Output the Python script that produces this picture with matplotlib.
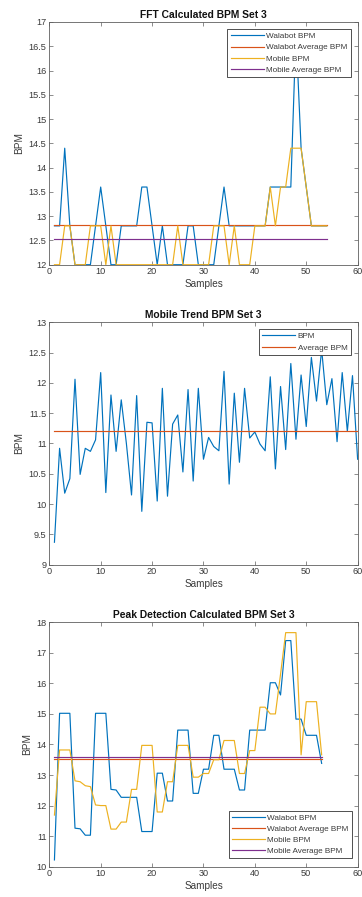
import matplotlib.pyplot as plt
import numpy as np

plt.rcParams['font.family'] = ['Liberation Sans', 'DejaVu Sans']

# colores por defecto de MATLAB
C_BLUE = '#0072BD'
C_ORANGE = '#D95319'
C_YELLOW = '#EDB120'
C_PURPLE = '#7E2F8E'
C_AXIS = '#5f5f5f'
C_TEXT = '#3a3a3a'

# ── Panel 1: FFT ──────────────────────────────────────────────
fft_walabot = [12.8, 12.8, 14.4, 12.8, 12.0, 12.0, 12.0, 12.0, 12.8, 13.6,
               12.8, 12.0, 12.0, 12.8, 12.8, 12.8, 12.8, 13.6, 13.6, 12.8,
               12.0, 12.8, 12.0, 12.0, 12.0, 12.0, 12.8, 12.8, 12.0, 12.0,
               12.0, 12.0, 12.8, 13.6, 12.8, 12.8, 12.8, 12.8, 12.8, 12.8,
               12.8, 12.8, 13.6, 13.6, 13.6, 13.6, 13.6, 16.8, 14.4, 13.6,
               12.8, 12.8, 12.8, 12.8]
fft_mobile = [12.0, 12.0, 12.8, 12.8, 12.0, 12.0, 12.0, 12.8, 12.8, 12.8,
              12.0, 12.8, 12.0, 12.0, 12.0, 12.0, 12.0, 12.0, 12.0, 12.0,
              12.0, 12.0, 12.0, 12.0, 12.8, 12.0, 12.0, 12.0, 12.0, 12.0,
              12.0, 12.8, 12.8, 12.8, 12.0, 12.8, 12.0, 12.0, 12.0, 12.8,
              12.8, 12.8, 13.6, 12.8, 13.6, 13.6, 14.4, 14.4, 14.4, 13.6,
              12.8, 12.8, 12.8, 12.8]
fft_walabot_avg = 12.81
fft_mobile_avg = 12.53

# ── Panel 2: tendencia móvil ──────────────────────────────────
trend_bpm = [9.37, 10.92, 10.18, 10.42, 12.06, 10.49, 10.92, 10.87, 11.06, 12.17,
             10.19, 11.80, 10.87, 11.72, 11.00, 10.15, 11.79, 9.88, 11.35, 11.34,
             10.05, 11.91, 10.13, 11.32, 11.47, 10.53, 11.89, 10.38, 11.91, 10.74,
             11.10, 10.95, 10.88, 12.19, 10.33, 11.83, 10.69, 11.91, 11.09, 11.19,
             10.99, 10.88, 12.10, 10.58, 11.94, 10.90, 12.32, 11.07, 12.13, 11.28,
             12.42, 11.70, 12.55, 11.64, 12.07, 11.03, 12.17, 11.20, 12.12, 10.74]
trend_avg = 11.21

# ── Panel 3: detección de picos ───────────────────────────────
peak_walabot = [10.22, 15.02, 15.02, 15.02, 11.26, 11.24, 11.03, 11.03, 15.02, 15.02,
                15.02, 12.53, 12.51, 12.27, 12.27, 12.27, 12.27, 11.15, 11.15, 11.15,
                13.06, 13.06, 12.15, 12.15, 14.47, 14.47, 14.47, 12.40, 12.40, 13.19,
                13.19, 14.30, 14.30, 13.19, 13.19, 13.19, 12.51, 12.51, 14.47, 14.47,
                14.47, 14.47, 16.02, 16.02, 15.62, 17.40, 17.40, 14.83, 14.83, 14.30,
                14.30, 14.30, 13.38]
peak_mobile = [11.69, 13.82, 13.82, 13.82, 12.81, 12.78, 12.65, 12.62, 12.02, 12.00,
               12.00, 11.23, 11.23, 11.46, 11.46, 12.53, 12.53, 13.97, 13.97, 13.97,
               11.79, 11.79, 12.78, 12.78, 13.97, 13.97, 13.97, 12.93, 12.93, 13.05,
               13.05, 13.50, 13.50, 14.13, 14.13, 14.13, 13.05, 13.05, 13.80, 13.80,
               15.22, 15.22, 15.00, 15.00, 16.30, 17.66, 17.66, 17.66, 13.66, 15.40,
               15.40, 15.40, 13.66]
peak_walabot_avg = 13.52
peak_mobile_avg = 13.60

x_ticks = [0, 10, 20, 30, 40, 50, 60]
LW = 0.85


def style_axes(ax, title, ylim, yticks):
    ax.set_xlim(0, 60)
    ax.set_ylim(*ylim)
    ax.set_xticks(x_ticks)
    ax.set_yticks(yticks)
    ax.set_yticklabels([f'{v:g}' for v in yticks])
    ax.tick_params(direction='in', top=True, right=True, length=3, width=0.5,
                   labelsize=6.6, colors=C_AXIS, labelcolor=C_TEXT, pad=2)
    for sp in ax.spines.values():
        sp.set_color(C_AXIS)
        sp.set_linewidth(0.6)
    ax.set_title(title, fontsize=7.4, fontweight='bold', pad=3, color='#111111')
    ax.set_xlabel('Samples', fontsize=7.2, color=C_TEXT, labelpad=2)
    ax.set_ylabel('BPM', fontsize=7.2, color=C_TEXT, labelpad=3)


def add_legend(ax, loc, anchor):
    leg = ax.legend(loc=loc, bbox_to_anchor=anchor, borderaxespad=0,
                    fontsize=5.9, handlelength=4.0, handletextpad=0.3,
                    labelspacing=0.42, borderpad=0.4, fancybox=False,
                    framealpha=1, edgecolor='#333333')
    leg.get_frame().set_linewidth(0.6)
    for t in leg.get_texts():
        t.set_color(C_TEXT)


fig = plt.figure(figsize=(3.62, 8.97), dpi=100)
fig.patch.set_facecolor('white')

# Panel 1
ax1 = fig.add_axes([0.1362, 0.7049, 0.8517, 0.2706])
s1 = np.arange(1, len(fft_walabot) + 1)
ax1.plot(s1, fft_walabot, color=C_BLUE, lw=LW, label='Walabot BPM')
ax1.plot([s1[0], s1[-1]], [fft_walabot_avg] * 2, color=C_ORANGE, lw=LW,
         label='Walabot Average BPM')
ax1.plot(s1, fft_mobile, color=C_YELLOW, lw=LW, label='Mobile BPM')
ax1.plot([s1[0], s1[-1]], [fft_mobile_avg] * 2, color=C_PURPLE, lw=LW,
         label='Mobile Average BPM')
style_axes(ax1, 'FFT Calculated BPM Set 3', (12, 17), np.arange(12, 17.01, 0.5))
add_legend(ax1, 'upper right', (0.977, 0.970))

# Panel 2
ax2 = fig.add_axes([0.1362, 0.3705, 0.8517, 0.2702])
s2 = np.arange(1, len(trend_bpm) + 1)
ax2.plot(s2, trend_bpm, color=C_BLUE, lw=LW, label='BPM')
ax2.plot([s2[0], s2[-1]], [trend_avg] * 2, color=C_ORANGE, lw=LW,
         label='Average BPM')
style_axes(ax2, 'Mobile Trend BPM Set 3', (9, 13), np.arange(9, 13.01, 0.5))
add_legend(ax2, 'upper right', (0.977, 0.971))

# Panel 3
ax3 = fig.add_axes([0.1362, 0.0338, 0.8517, 0.2725])
s3 = np.arange(1, len(peak_walabot) + 1)
ax3.plot(s3, peak_walabot, color=C_BLUE, lw=LW, label='Walabot BPM')
ax3.plot([s3[0], s3[-1]], [peak_walabot_avg] * 2, color=C_ORANGE, lw=LW,
         label='Walabot Average BPM')
ax3.plot(s3, peak_mobile, color=C_YELLOW, lw=LW, label='Mobile BPM')
ax3.plot([s3[0], s3[-1]], [peak_mobile_avg] * 2, color=C_PURPLE, lw=LW,
         label='Mobile Average BPM')
style_axes(ax3, 'Peak Detection Calculated BPM Set 3', (10, 18), np.arange(10, 18.01, 1))
add_legend(ax3, 'lower right', (0.981, 0.034))

fig.savefig('out.png', dpi=100, facecolor='white')
